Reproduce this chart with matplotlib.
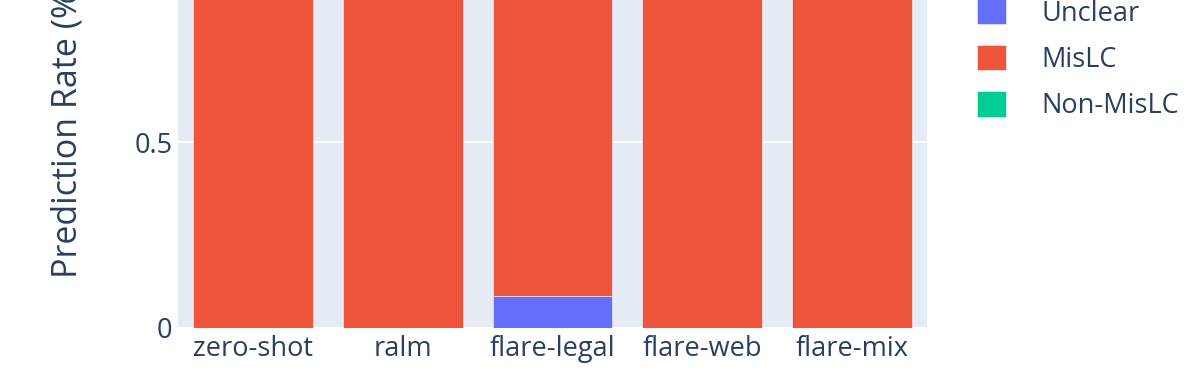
import matplotlib.pyplot as plt
import numpy as np
from matplotlib.patches import Patch

plt.rcParams['font.family'] = ['Open Sans', 'DejaVu Sans']

methods = ['zero-shot', 'ralm', 'flare-legal', 'flare-web', 'flare-mix']
unclear = [0.0, 0.0, 0.086, 0.0, 0.0]
mislc = [1.0, 1.0, 0.914, 1.0, 1.0]
non_mislc = [0.0, 0.0, 0.0, 0.0, 0.0]

colors = {'Unclear': '#636efa', 'MisLC': '#EF553B', 'Non-MisLC': '#00cc96'}
text_col = '#2a3f5f'
bg = '#E5ECF6'

fig = plt.figure(figsize=(11.96, 3.92), dpi=100)
ax = fig.add_axes([178 / 1196, 64 / 392, 749 / 1196, 328 / 392])
ax.set_facecolor(bg)

x = np.arange(len(methods))
bottom = np.zeros(len(methods))
for name, vals in [('Unclear', unclear), ('MisLC', mislc), ('Non-MisLC', non_mislc)]:
    ax.bar(x, vals, width=0.8, bottom=bottom, color=colors[name],
           edgecolor=bg, linewidth=0.5, zorder=3)
    bottom += np.array(vals)

ax.set_xlim(-0.5, len(methods) - 0.5)
ax.set_ylim(0, 0.882)
ax.set_yticks([0, 0.5])
ax.set_yticklabels(['0', '0.5'])
ax.set_xticks(x)
ax.set_xticklabels(methods)
ax.tick_params(length=0, labelsize=19.5, labelcolor=text_col)
ax.tick_params(axis='x', pad=5)
ax.tick_params(axis='y', pad=4)
ax.grid(axis='y', color='white', linewidth=1.5, zorder=0)
ax.set_axisbelow(True)
for s in ax.spines.values():
    s.set_visible(False)

fig.text(68 / 1196, 1 - 278 / 392, 'Prediction Rate (%)', rotation=90,
         ha='center', va='bottom', fontsize=24.5, color=text_col)

handles = [Patch(facecolor=colors[n], edgecolor=bg, linewidth=0.5)
           for n in ['Unclear', 'MisLC', 'Non-MisLC']]
leg = fig.legend(handles, ['Unclear', 'MisLC', 'Non-MisLC'],
                 loc='upper left', bbox_to_anchor=(977 / 1196, 1 + 1 / 392),
                 frameon=False, fontsize=19.5, handlelength=1.07, handleheight=1.07,
                 handletextpad=1.3, labelspacing=0.63, borderpad=0,
                 borderaxespad=0)
for t in leg.get_texts():
    t.set_color(text_col)

fig.savefig('out.png', dpi=100)
